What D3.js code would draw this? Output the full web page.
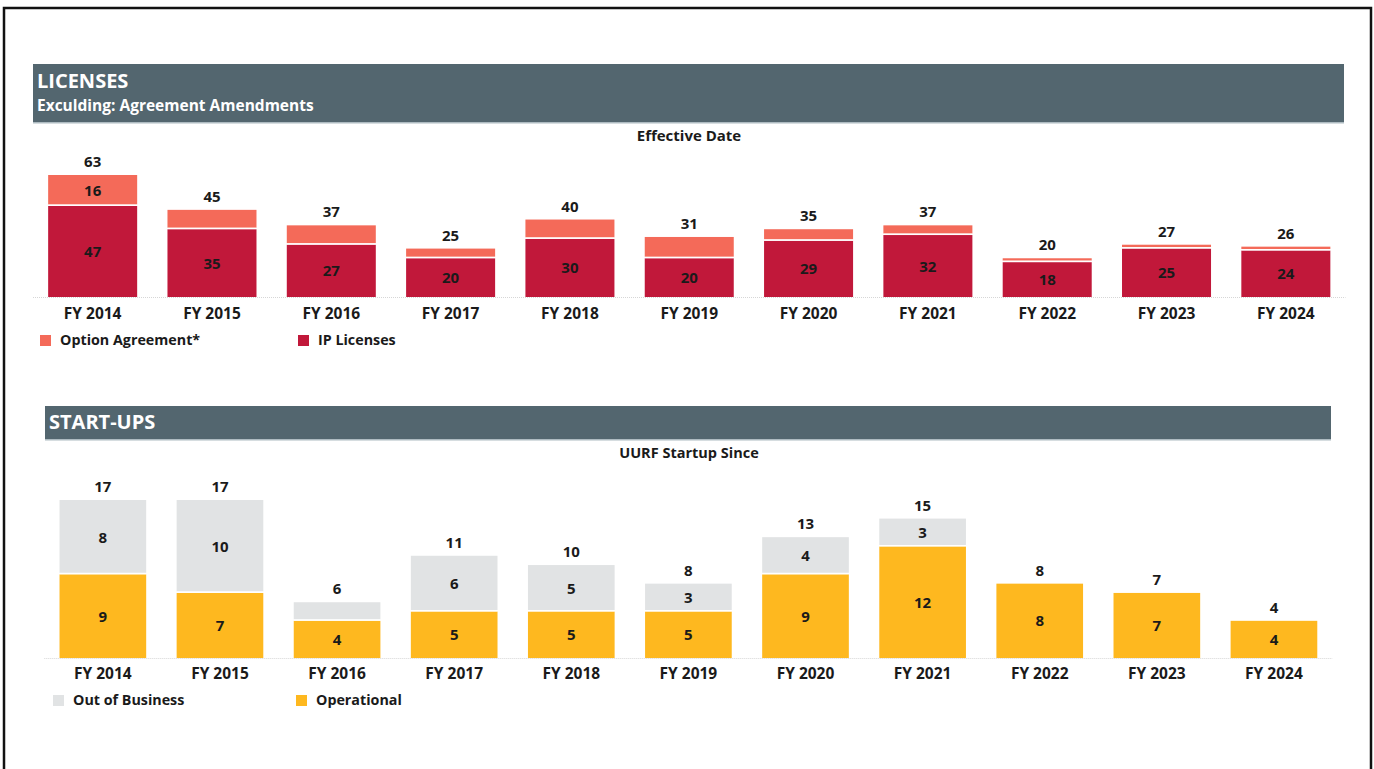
<!DOCTYPE html>
<html><head><meta charset="utf-8">
<script src="https://cdn.jsdelivr.net/npm/d3@7"></script>
<style>
body{margin:0;background:#fff;}
svg{display:block;font-family:"Open Sans",sans-serif;}
</style></head>
<body>
<svg id="c" width="1374" height="769"></svg>
<script>
const years = ["FY 2014","FY 2015","FY 2016","FY 2017","FY 2018","FY 2019","FY 2020","FY 2021","FY 2022","FY 2023","FY 2024"];
const ipLicenses = [47,35,27,20,30,20,29,32,18,25,24];
const optionAgreements = [16,10,10,5,10,11,6,5,2,2,2];
const operational = [9,7,4,5,5,5,9,12,8,7,4];
const outOfBusiness = [8,10,2,6,5,3,4,3,0,0,0];

const svg = d3.select("#c");
svg.append("rect").attr("x",4).attr("y",8).attr("width",1367).attr("height",780)
  .attr("fill","none").attr("stroke","#111").attr("stroke-width",2.5);

function header(x0,x1,y0,y1,title,sub,ty){
  svg.append("rect").attr("x",x0).attr("y",y0).attr("width",x1-x0).attr("height",y1-y0).attr("fill","#53666f");
  svg.append("rect").attr("x",x0).attr("y",y1).attr("width",x1-x0).attr("height",1.5).attr("fill","#aebbc1");
  svg.append("text").attr("x",x0+4).attr("y",ty).attr("fill","#fff").attr("font-weight",700)
    .attr("font-size",20).text(title);
  if(sub) svg.append("text").attr("x",x0+4).attr("y",ty+23).attr("fill","#fff").attr("font-weight",700)
    .attr("font-size",15.5).text(sub);
}

function chart(cfg){
  const x = d3.scaleBand().domain(years).range([cfg.x0,cfg.x1]).paddingInner(cfg.pad).paddingOuter(cfg.pad/2);
  const y = d3.scaleLinear().domain([0,cfg.max]).range([cfg.base,cfg.top]);
  const g = svg.append("g");
  g.append("line").attr("x1",cfg.x0).attr("x2",cfg.x1).attr("y1",cfg.base+0.5).attr("y2",cfg.base+0.5)
    .attr("stroke","#d6d6d6").attr("stroke-width",1).attr("stroke-dasharray","1,1");
  const data = years.map((yr,i)=>({yr,a:cfg.lower[i],b:cfg.upper[i]}));
  data.forEach(d=>{
    const bx = x(d.yr), bw = x.bandwidth();
    const y0 = y(0), ya = y(d.a), yb = y(d.a+d.b);
    g.append("rect").attr("x",bx).attr("y",ya).attr("width",bw).attr("height",y0-ya).attr("fill",cfg.cLower);
    if(d.b>0){
      g.append("rect").attr("x",bx).attr("y",yb).attr("width",bw).attr("height",ya-yb-1.5).attr("fill",cfg.cUpper);
      g.append("rect").attr("x",bx).attr("y",ya-1.5).attr("width",bw).attr("height",1.5).attr("fill","#fff").attr("opacity",0.8);
    }
    const cx = bx+bw/2;
    g.append("text").attr("x",cx).attr("y",(ya+y0)/2+5.5).attr("text-anchor","middle")
      .attr("font-size",15).attr("font-weight",700).attr("fill","#1a1a1a").text(d.a);
    if(d.b>0 && (ya-yb)>22){
      g.append("text").attr("x",cx).attr("y",(ya+yb)/2+5.5).attr("text-anchor","middle")
        .attr("font-size",15).attr("font-weight",700).attr("fill","#1a1a1a").text(d.b);
    }
    g.append("text").attr("x",cx).attr("y",yb-8).attr("text-anchor","middle")
      .attr("font-size",15).attr("font-weight",700).attr("fill","#1a1a1a").text(d.a+d.b);
  });
  const ax = g.append("g").attr("transform",`translate(0,${cfg.base})`)
    .call(d3.axisBottom(x).tickSize(0).tickPadding(0));
  ax.select(".domain").remove();
  ax.selectAll("text").attr("y",cfg.labelDy).attr("dy",0).attr("font-size",15.5).attr("font-weight",700)
    .attr("fill","#1a1a1a").attr("font-family","'Open Sans',sans-serif");
  svg.append("text").attr("x",689).attr("y",cfg.titleY).attr("text-anchor","middle").attr("font-size",cfg.titleSize)
    .attr("font-weight",700).attr("fill","#1a1a1a").text(cfg.title);
  cfg.legend.forEach(l=>{
    svg.append("rect").attr("x",l.x).attr("y",cfg.legY-10).attr("width",11).attr("height",11).attr("fill",l.c);
    svg.append("text").attr("x",l.x+20).attr("y",cfg.legY).attr("font-size",14.3).attr("font-weight",700)
      .attr("fill","#1a1a1a").text(l.t);
  });
}

header(33,1344,64,122,"LICENSES","Exculding: Agreement Amendments",88);
chart({x0:33,x1:1345.5,pad:0.254,max:63,base:297,top:175,lower:ipLicenses,upper:optionAgreements,
  cLower:"#c1183a",cUpper:"#f46a59",labelDy:22,title:"Effective Date",titleY:141,titleSize:15,legY:345,
  legend:[{x:40,c:"#f46a59",t:"Option Agreement*"},{x:298,c:"#c1183a",t:"IP Licenses"}]});

header(45,1331,406,439,"START-UPS",null,429);
chart({x0:44.3,x1:1332.5,pad:0.26,max:17,base:658,top:500,lower:operational,upper:outOfBusiness,
  cLower:"#feb81f",cUpper:"#e1e3e4",labelDy:21,title:"UURF Startup Since",titleY:458,titleSize:14.5,legY:705,
  legend:[{x:53,c:"#e1e3e4",t:"Out of Business"},{x:296,c:"#feb81f",t:"Operational"}]});
</script>
</body></html>
